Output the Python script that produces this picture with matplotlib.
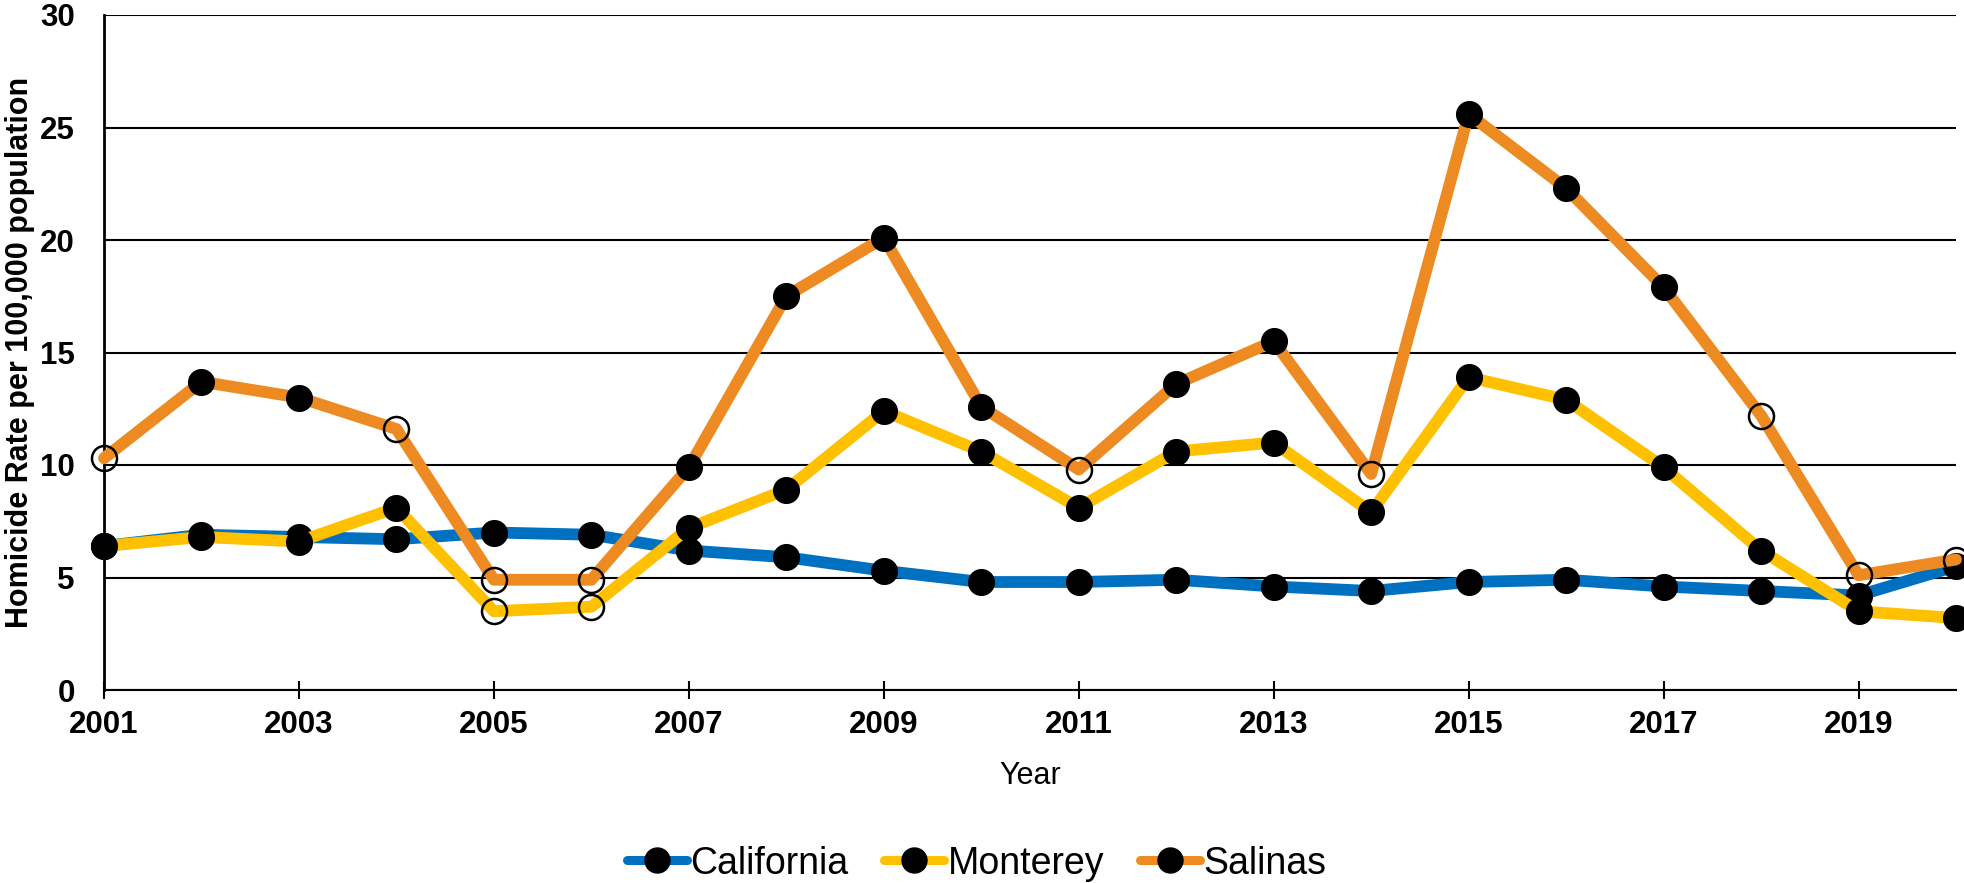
import matplotlib
matplotlib.use('Agg')
import matplotlib.pyplot as plt
from matplotlib.lines import Line2D
import numpy as np

plt.rcParams['font.family'] = ['Liberation Sans', 'DejaVu Sans']

years = list(range(2001, 2021))
california = [6.4, 6.9, 6.8, 6.7, 7.0, 6.9, 6.2, 5.9, 5.3, 4.8,
              4.8, 4.9, 4.6, 4.4, 4.8, 4.9, 4.6, 4.4, 4.2, 5.5]
monterey = [6.4, 6.8, 6.6, 8.1, 3.5, 3.7, 7.2, 8.9, 12.4, 10.6,
            8.1, 10.6, 11.0, 7.9, 13.9, 12.9, 9.9, 6.2, 3.5, 3.2]
salinas = [10.3, 13.7, 13.0, 11.6, 4.9, 4.9, 9.9, 17.5, 20.1, 12.6,
           9.8, 13.6, 15.5, 9.6, 25.6, 22.3, 17.9, 12.2, 5.1, 5.8]
# open circle = unstable rate
monterey_open = [2005, 2006]
salinas_open = [2001, 2004, 2005, 2006, 2011, 2014, 2018, 2019, 2020]

names = ['California', 'Monterey', 'Salinas']
colors = ['#0070C0', '#FFC000', '#EE8A22']

fig = plt.figure(figsize=(19.65, 8.83), dpi=100)
ax = fig.add_axes([104/1965, 1-690/883, 1852/1965, 675/883])

series = [(california, []), (monterey, monterey_open), (salinas, salinas_open)]
z = 3
for (vals, opens), c in zip(series, colors):
    ax.plot(years, vals, color=c, lw=8.5, solid_capstyle='round', zorder=z, clip_on=False)
    x = np.array(years)
    v = np.array(vals)
    is_open = np.isin(x, opens)
    ax.plot(x[~is_open], v[~is_open], 'o', color='black', ms=18.5, zorder=z + 0.5, clip_on=False)
    ax.plot(x[is_open], v[is_open], 'o', mfc='none', mec='black', mew=1.8, ms=18,
            zorder=z + 0.5, clip_on=False)
    z += 1

ax.set_xlim(2001, 2020)
ax.set_ylim(0, 30)
ax.set_yticks(range(0, 31, 5))
ax.set_xticks(range(2001, 2021, 2))
ax.yaxis.grid(True, color='black', lw=1.5)
ax.set_axisbelow(True)
for s in ['top', 'right']:
    ax.spines[s].set_visible(False)
ax.spines['left'].set_linewidth(2)
ax.spines['bottom'].set_linewidth(1.5)
ax.tick_params(axis='y', length=0, pad=21, labelsize=22.5)
ax.tick_params(axis='x', direction='inout', length=13, width=1.5, pad=8, labelsize=22.5)
for lab in ax.get_xticklabels() + ax.get_yticklabels():
    lab.set_fontweight('bold')

ax.set_ylabel('Homicide Rate per 100,000 population', fontsize=22, fontweight='bold')
ax.yaxis.set_label_coords(-0.037, 0.5)
ax.set_xlabel('Year', fontsize=22, labelpad=15)

handles = [Line2D([0], [0], color=c, lw=6.5, marker='o', mfc='black', mec='black', ms=18,
                  solid_capstyle='round') for c in colors]
fig.legend(handles, names, loc='center', bbox_to_anchor=(0.497, 0.022), ncol=3,
           frameon=False, fontsize=27, handlelength=1.6, handletextpad=0.1, columnspacing=0.95)

fig.savefig('out.png', dpi=100)
